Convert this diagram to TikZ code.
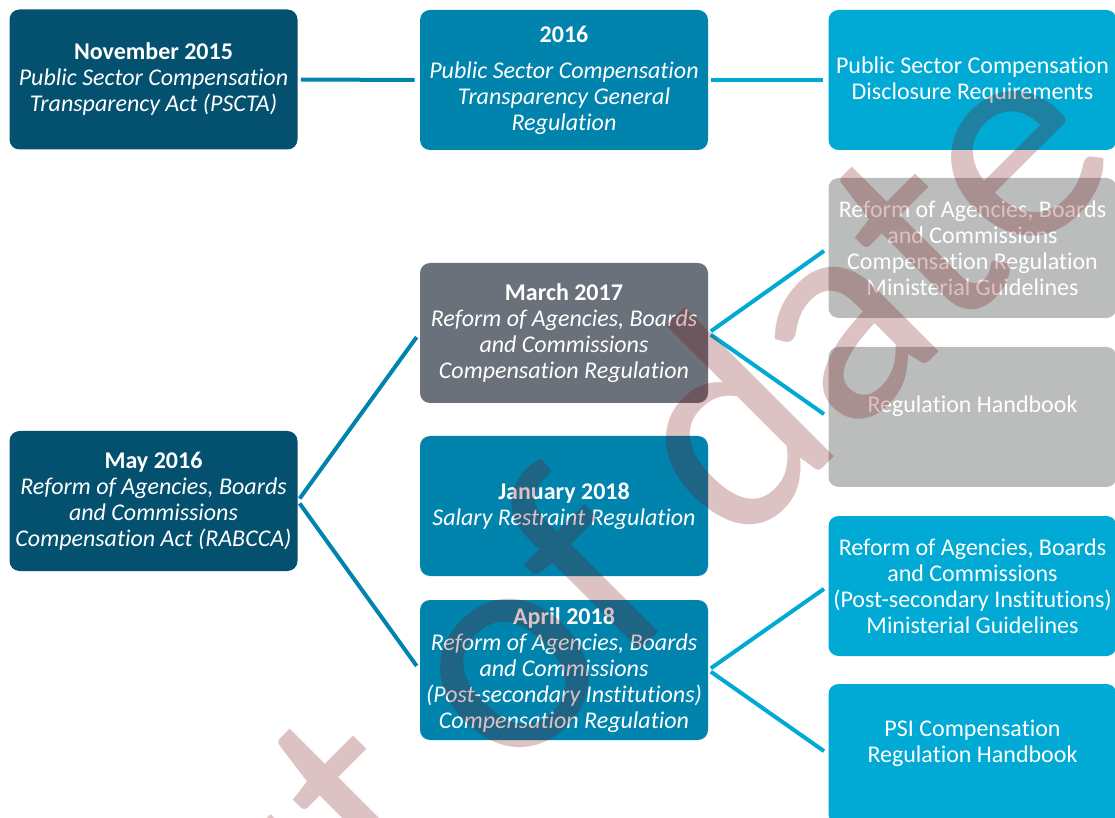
\documentclass[tikz,border=0pt]{standalone}
\usepackage{fontspec}
\setmainfont{Carlito}[Ligatures=NoCommon]
\definecolor{actdark}{RGB}{3,80,111}
\definecolor{actteal}{RGB}{0,131,173}
\definecolor{actlight}{RGB}{0,170,212}
\definecolor{actslate}{RGB}{106,113,122}
\definecolor{actgrey}{RGB}{186,189,188}
\definecolor{stampred}{RGB}{120,10,15}
\begin{document}
\begin{tikzpicture}[x=0.5pt,y=-0.5pt,
  box/.style={rounded corners=5pt,minimum width=144pt,minimum height=70pt,inner sep=0pt,
    align=center,text=white,font=\fontsize{12}{13}\selectfont},
  link/.style={line width=2pt,shorten <=1.5pt,shorten >=2.5pt}]
\useasboundingbox (0,0) rectangle (1115,818);

\node[box,fill=actdark] (nov15) at (153.5,79.5) {\textbf{November 2015}\\\textit{Public Sector Compensation}\\\textit{Transparency Act (PSCTA)}};
\node[box,fill=actteal] (reg16) at (564,80) {\textbf{2016}\\[5pt]\textit{Public Sector Compensation}\\\textit{Transparency General}\\\textit{Regulation}};
\node[box,fill=actlight] (disclose) at (972.5,80) {Public Sector Compensation\\Disclosure Requirements};

\node[box,fill=actdark] (may16) at (153.5,501) {\textbf{May 2016}\\\textit{Reform of Agencies, Boards}\\\textit{and Commissions}\\\textit{Compensation Act (RABCCA)}};
\node[box,fill=actslate] (mar17) at (564,333) {\textbf{March 2017}\\\textit{Reform of Agencies, Boards}\\\textit{and Commissions}\\\textit{Compensation Regulation}};
\node[box,fill=actteal] (jan18) at (564,506) {\textbf{January 2018}\\\textit{Salary Restraint Regulation}};
\node[box,fill=actteal] (apr18) at (564,670) {\textbf{April 2018}\\\textit{Reform of Agencies, Boards}\\\textit{and Commissions}\\\textit{(Post-secondary Institutions)}\\\textit{Compensation Regulation}};

\node[box,fill=actgrey] (guide) at (972.5,248) {Reform of Agencies, Boards\\and Commissions\\Compensation Regulation\\Ministerial Guidelines};
\node[box,fill=actgrey] (handbook) at (972.5,417) {Regulation Handbook\\\mbox{}};
\node[box,fill=actlight] (psiguide) at (972.5,586) {Reform of Agencies, Boards\\and Commissions\\(Post-secondary Institutions)\\Ministerial Guidelines};
\node[box,fill=actlight] (psihandbook) at (972.5,754) {PSI Compensation\\Regulation Handbook\\\mbox{}};

\draw[link,actteal] (nov15.east) -- (reg16.west);
\draw[link,actlight] (reg16.east) -- (disclose.west);
\foreach \to in {mar17,apr18}
  \draw[link,actteal] (may16.east) -- (\to.west);
\foreach \from/\to in {mar17/guide,mar17/handbook,apr18/psiguide,apr18/psihandbook}
  \draw[link,actlight] (\from.east) -- (\to.west);

% watermark on top
\node[rotate=45,anchor=base,inner sep=0pt,text=stampred,text opacity=0.25,
  font=\fontsize{152}{152}\selectfont] (stamp) at (645,646) {out of date};
\end{tikzpicture}
\end{document}
